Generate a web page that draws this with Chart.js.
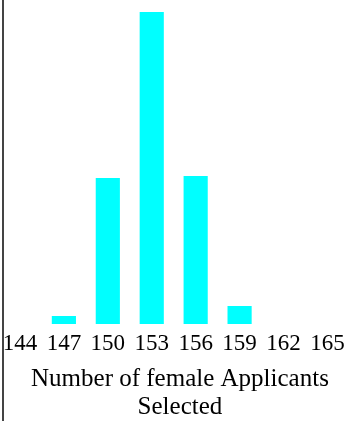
<!DOCTYPE html>
<html>
<head>
<meta charset="utf-8">
<script src="https://cdn.jsdelivr.net/npm/chart.js@4"></script>
<style>
  html, body { margin: 0; padding: 0; background: #fff; overflow: hidden; }
  #wrap { position: relative; width: 351px; height: 421px; overflow: hidden; }
  #edge { position: absolute; left: 2px; top: 0; width: 2px; height: 421px; background: #444; }
  canvas { position: absolute; left: -2px; top: 0; }
</style>
</head>
<body>
<div id="wrap">
  <canvas id="histChart" width="353" height="421"></canvas>
  <div id="edge"></div>
</div>
<script>
// Histogram of selected female applicants

const categories = ['144', '147', '150', '153', '156', '159', '162', '165'];

// bar heights (no bars at 144, 162, 165)
const counts = [null, 0.8, 14.6, 31.2, 14.8, 1.8, null, null];

// leading no-break spaces nudge the centred title a little to the right
const axisTitle = ['\u00a0\u00a0Number of female Applicants', '\u00a0\u00a0Selected'];

const serif = '"Liberation Serif", "Times New Roman", serif';

const ctx = document.getElementById('histChart').getContext('2d');

new Chart(ctx, {
  type: 'bar',
  data: {
    labels: categories,
    datasets: [
      {
        data: counts,
        backgroundColor: '#00ffff',
        borderWidth: 0,
        barPercentage: 0.55,
        categoryPercentage: 1
      }
    ]
  },
  options: {
    responsive: false,
    animation: false,
    layout: {
      padding: { left: 0, right: 1.6, top: 0, bottom: 0 }
    },
    plugins: {
      legend: { display: false },
      tooltip: { enabled: false }
    },
    scales: {
      x: {
        offset: true,
        border: { display: false },
        grid: { display: false, drawTicks: false, tickLength: 0 },
        ticks: {
          color: '#000',
          padding: 4,
          maxRotation: 0,
          autoSkip: false,
          font: { family: serif, size: 23, lineHeight: '32px' }
        },
        title: {
          display: true,
          text: axisTitle,
          color: '#000',
          padding: { top: 1, bottom: 0 },
          font: { family: serif, size: 25, lineHeight: 1.12 }
        }
      },
      y: {
        display: false,
        min: 0,
        max: 32.4
      }
    }
  }
});
</script>
</body>
</html>
